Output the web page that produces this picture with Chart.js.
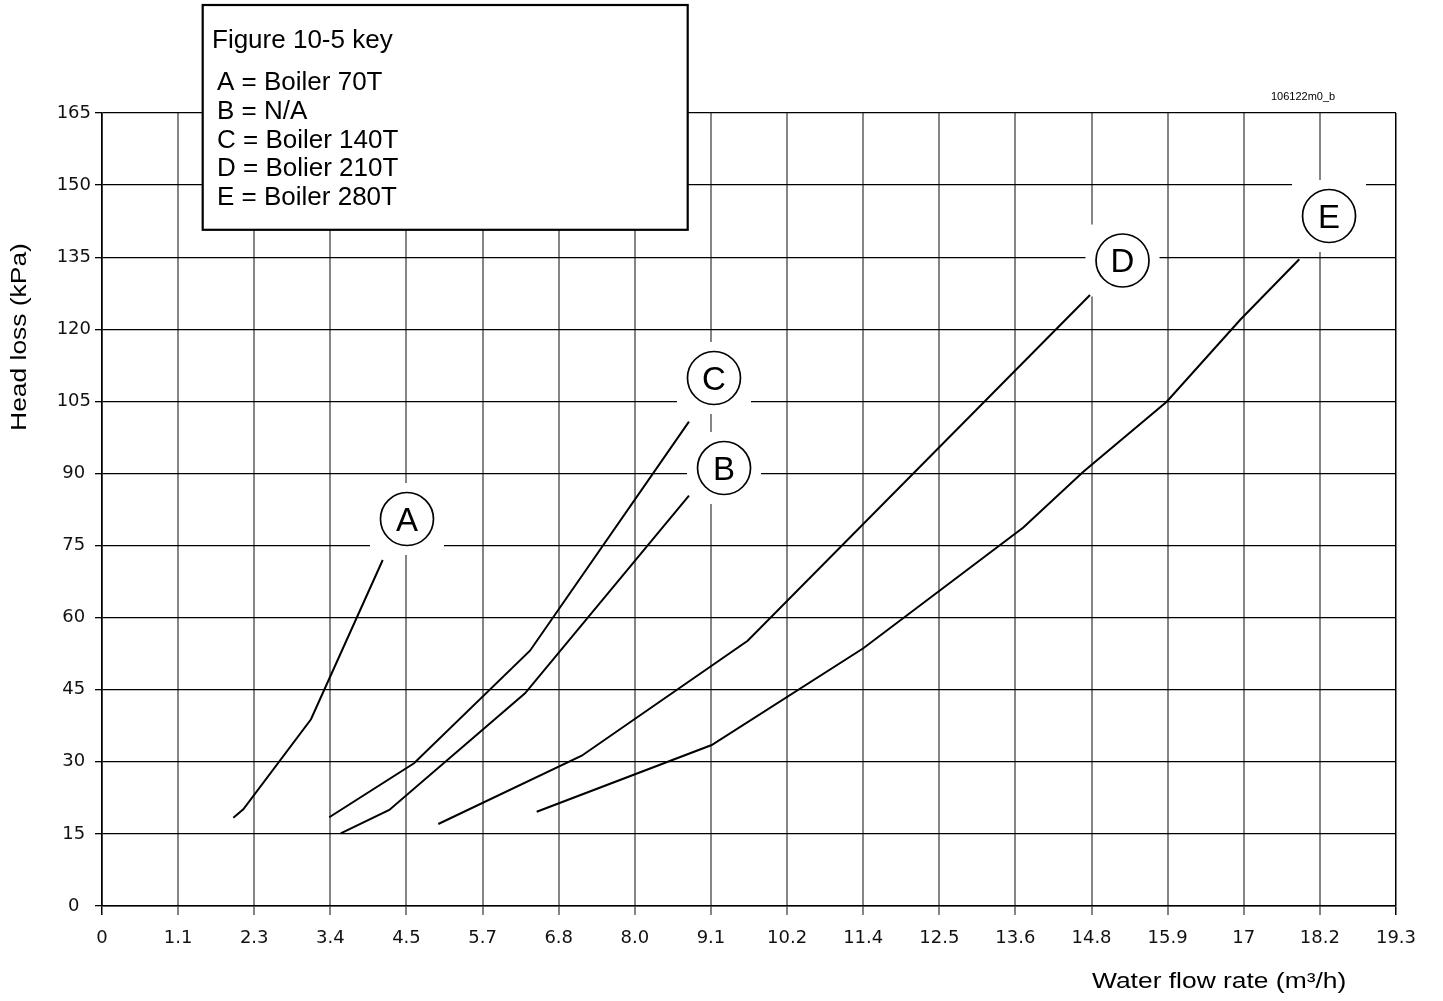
<!DOCTYPE html>
<html><head><meta charset="utf-8">
<script src="https://cdn.jsdelivr.net/npm/chart.js@4.4.1/dist/chart.umd.min.js"></script>
<style>html,body{margin:0;padding:0;background:#fff;overflow:hidden}canvas{display:block}</style>
</head><body>
<canvas id="c" width="1443" height="1001"></canvas>
<script>
// ---- data ----
const xTickLabels = ['0','1.1','2.3','3.4','4.5','5.7','6.8','8.0','9.1','10.2','11.4','12.5','13.6','14.8','15.9','17','18.2','19.3'];
const xMax = 19.305;
const yMin = 0, yMax = 165, yStep = 15;

const curveA_x = [1.959, 2.108, 3.118, 4.188];
const curveA_y = [18.37, 20.12, 38.85, 71.99];
const curveB_x = [3.561, 4.286, 6.311, 8.757];
const curveB_y = [15.12, 19.97, 44.25, 85.38];
const curveC_x = [3.391, 4.655, 6.385, 8.757];
const curveC_y = [18.46, 29.69, 53.12, 100.77];
const curveD_x = [5.017, 7.157, 9.633, 14.740];
const curveD_y = [17.06, 31.27, 55.20, 127.13];
const curveE_x = [6.485, 9.096, 11.358, 13.745, 14.640, 15.884, 16.978, 17.862];
const curveE_y = [19.62, 33.50, 53.62, 78.75, 90.37, 104.93, 121.93, 134.56];

const curveLetters = ['A','B','C','D','E'];
const labelX = [4.550, 9.280, 9.130, 15.225, 18.306];
const labelY = [80.52, 91.13, 109.86, 134.31, 143.57];

const keyTitle = 'Figure 10-5 key';
const keyLines = ['A = Boiler 70T','B = N/A','C = Boiler 140T','D = Bolier 210T','E = Boiler 280T'];
const xTitle = 'Water flow rate (m\u00B3/h)';
const yTitle = 'Head loss (kPa)';
const figCode = '106122m0_b';

// ---- build ----
const curvesX = [curveA_x, curveB_x, curveC_x, curveD_x, curveE_x];
const curvesY = [curveA_y, curveB_y, curveC_y, curveD_y, curveE_y];
const datasets = curveLetters.map((L, i) => ({
  label: L,
  data: curvesX[i].map((xv, j) => ({ x: xv, y: curvesY[i][j] })),
  borderColor: '#000',
  borderWidth: 2,
  pointRadius: 0,
  tension: 0,
  fill: false
}));

const SANS = '"Liberation Sans", Arial, Helvetica, sans-serif';
const lastX = xTickLabels.length - 1;

const annotations = {
  id: 'annot',
  beforeDatasetsDraw(chart) {
    const { ctx, scales: { x, y } } = chart;
    ctx.save();
    curveLetters.forEach((L, i) => {
      const cx = x.getPixelForValue(labelX[i]);
      const cy = y.getPixelForValue(labelY[i]);
      ctx.fillStyle = '#fff';
      ctx.fillRect(cx - 37, cy - 36, 74, 72);
      ctx.beginPath();
      ctx.arc(cx, cy, 26.5, 0, Math.PI * 2);
      ctx.lineWidth = 1.7;
      ctx.strokeStyle = '#000';
      ctx.stroke();
      ctx.fillStyle = '#000';
      ctx.font = '33px ' + SANS;
      ctx.textAlign = 'center';
      ctx.textBaseline = 'alphabetic';
      ctx.fillText(L, cx, cy + 12);
    });
    ctx.restore();
  },
  afterDraw(chart) {
    const { ctx } = chart;
    ctx.save();
    // key box
    ctx.fillStyle = '#fff';
    ctx.fillRect(203, 5, 485, 225);
    ctx.lineWidth = 2.2;
    ctx.strokeStyle = '#000';
    ctx.strokeRect(202.7, 5, 485, 224.8);
    ctx.fillStyle = '#000';
    ctx.font = '26px ' + SANS;
    ctx.textAlign = 'left';
    ctx.textBaseline = 'alphabetic';
    ctx.fillText(keyTitle, 212, 48);
    keyLines.forEach((t, i) => ctx.fillText(t, 217, 90 + i * 28.75));
    // figure code
    ctx.font = '11px ' + SANS;
    ctx.fillText(figCode, 1271, 100);
    // y title
    ctx.save();
    ctx.translate(26, 337);
    ctx.rotate(-Math.PI / 2);
    ctx.scale(1.2, 1);
    ctx.font = '22px ' + SANS;
    ctx.textAlign = 'center';
    ctx.fillText(yTitle, 0, 0);
    ctx.restore();
    // x title
    ctx.save();
    ctx.translate(1092, 988);
    ctx.scale(1.2, 1);
    ctx.font = '22px ' + SANS;
    ctx.textAlign = 'left';
    ctx.fillText(xTitle, 0, 0);
    ctx.restore();
    ctx.restore();
  }
};

new Chart(document.getElementById('c'), {
  type: 'line',
  data: { datasets },
  options: {
    responsive: false,
    animation: false,
    devicePixelRatio: 1,
    layout: { padding: { top: 113, right: 47, left: 0, bottom: 0 } },
    plugins: { legend: { display: false }, tooltip: { enabled: false }, title: { display: false } },
    scales: {
      x: {
        type: 'linear',
        min: 0,
        max: xMax,
        afterBuildTicks: s => {
          s.ticks = xTickLabels.map((_, i) => ({ value: i * xMax / lastX }));
        },
        afterFit: s => { s.height = 95; },
        grid: {
          color: c => (c.index === 0 || c.index === lastX) ? '#000' : '#858585',
          lineWidth: c => (c.index === lastX || c.index === 0) ? 1.5 : 2,
          tickLength: 9
        },
        border: { color: '#000', width: 1.5 },
        ticks: {
          autoSkip: false,
          maxRotation: 0,
          minRotation: 0,
          padding: 13,
          color: '#111',
          font: { family: 'DejaVu Sans', size: 18 },
          callback: (v, i) => xTickLabels[i]
        }
      },
      y: {
        min: yMin,
        max: yMax,
        afterFit: s => { s.width = 102; },
        grid: { color: '#000', lineWidth: 1.3, tickLength: 7 },
        border: { color: '#000', width: 1.5 },
        ticks: {
          stepSize: yStep,
          crossAlign: 'center',
          padding: 4,
          color: '#111',
          font: { family: 'DejaVu Sans', size: 18 }
        }
      }
    }
  },
  plugins: [annotations]
});
</script>
</body></html>
